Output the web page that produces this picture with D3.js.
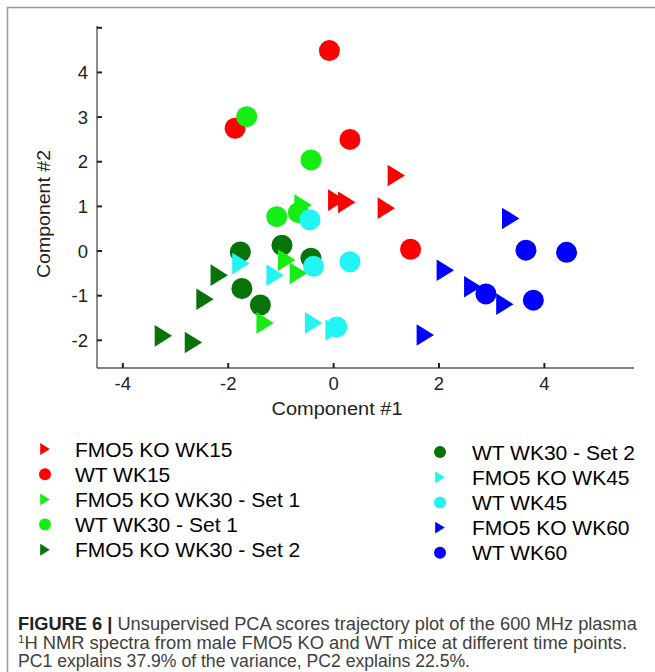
<!DOCTYPE html>
<html lang="en">
<head>
<meta charset="UTF-8">
<title>PCA scores</title>
<script src="https://d3js.org/d3.v7.min.js"></script>
<style>
  body { margin: 0; background: #fff; }
  text { font-family: "Liberation Sans", Arial, Helvetica, sans-serif; }
</style>
</head>
<body>
<div id="chart"></div>
<script>
// series values [PC1, PC2]
var fmo5Wk15 = [[1.19, 1.69], [0.06, 1.14], [0.25, 1.09], [1.00, 0.96]];
var wtWk15 = [[-0.08, 4.49], [0.31, 2.50], [1.46, 0.04], [-1.87, 2.75]];
var fmo5Wk30s1 = [[-0.58, 1.03], [-0.89, -0.20], [-0.67, -0.50], [-1.30, -1.61]];
var wtWk30s1 = [[-1.65, 3.01], [-0.43, 2.04], [-1.08, 0.77], [-0.67, 0.86]];
var fmo5Wk30s2 = [[-2.17, -0.54], [-2.44, -1.08], [-3.23, -1.90], [-2.66, -2.05]];
var wtWk30s2 = [[-1.77, -0.02], [-0.98, 0.13], [-0.43, -0.16], [-1.74, -0.84], [-1.39, -1.21]];
var fmo5Wk45 = [[-1.76, -0.28], [-1.11, -0.54], [-0.38, -1.61], [0.01, -1.77]];
var wtWk45 = [[-0.45, 0.70], [-0.38, -0.34], [0.31, -0.24], [0.06, -1.70]];
var fmo5Wk60 = [[3.36, 0.73], [2.12, -0.43], [2.64, -0.80], [3.25, -1.19], [1.74, -1.88]];
var wtWk60 = [[3.65, 0.02], [4.42, -0.03], [2.89, -0.96], [3.79, -1.10]];

var legendLabels = ["FMO5 KO WK15", "WT WK15", "FMO5 KO WK30 - Set 1", "WT WK30 - Set 1",
  "FMO5 KO WK30 - Set 2", "WT WK30 - Set 2", "FMO5 KO WK45", "WT WK45", "FMO5 KO WK60", "WT WK60"];
var seriesData = [fmo5Wk15, wtWk15, fmo5Wk30s1, wtWk30s1, fmo5Wk30s2, wtWk30s2, fmo5Wk45, wtWk45, fmo5Wk60, wtWk60];
var seriesShape = ["tri", "circle", "tri", "circle", "tri", "circle", "tri", "circle", "tri", "circle"];
var seriesColor = ["#ff0000", "#ff0000", "#14ee14", "#14ee14", "#087308", "#087308", "#22f4f4", "#22f4f4", "#0000ff", "#0000ff"];
// draw order so overlaps look like the original
var drawOrder = [0, 1, 4, 5, 2, 3, 6, 7, 8, 9];

var xTicks = [-4, -2, 0, 2, 4];
var yTicks = [-2, -1, 0, 1, 2, 3, 4, 5];
var yTickLabels = ["-2", "-1", "0", "1", "2", "3", "4", ""];

var captionLines = [
  ["Unsupervised PCA scores trajectory plot of the 600 MHz plasma"],
  ["H NMR spectra from male FMO5 KO and WT mice at different time points."],
  ["PC1 explains 37.9% of the variance, PC2 explains 22.5%."]
];

var W = 655, H = 672;
var svg = d3.select("#chart").append("svg")
  .attr("width", W).attr("height", H);

svg.append("rect").attr("width", W).attr("height", H).attr("fill", "#fff");

// outer frame (top and left edge visible)
svg.append("path")
  .attr("d", "M7.5," + H + " V7.5 H" + W)
  .attr("fill", "none").attr("stroke", "#9a9a9a").attr("stroke-width", 1.5);

var x = d3.scaleLinear().domain([-4.49, 5.7]).range([97, 634]);
var y = d3.scaleLinear().domain([-2.62, 5.04]).range([368, 26]);

var g = svg.append("g");

// axes
g.append("line").attr("x1", 97).attr("x2", 97).attr("y1", y(5.04)).attr("y2", 368)
  .attr("stroke", "#5a5a5a").attr("stroke-width", 1.4);
g.append("line").attr("x1", 97).attr("x2", x(5.7)).attr("y1", 368).attr("y2", 368)
  .attr("stroke", "#5a5a5a").attr("stroke-width", 1.4);

g.selectAll(".ytick").data(yTicks).enter().append("line")
  .attr("x1", 97).attr("x2", 102)
  .attr("y1", function(d) { return y(d); }).attr("y2", function(d) { return y(d); })
  .attr("stroke", "#222").attr("stroke-width", 2);
g.selectAll(".ylab").data(yTicks).enter().append("text")
  .attr("x", 88).attr("y", function(d) { return y(d) + 6.5; })
  .attr("text-anchor", "end").attr("font-size", 18.5).attr("fill", "#222")
  .text(function(d, i) { return yTickLabels[i]; });

g.selectAll(".xtick").data(xTicks).enter().append("line")
  .attr("x1", function(d) { return x(d); }).attr("x2", function(d) { return x(d); })
  .attr("y1", 368).attr("y2", 363)
  .attr("stroke", "#222").attr("stroke-width", 2);
g.selectAll(".xlab").data(xTicks).enter().append("text")
  .attr("x", function(d) { return x(d); }).attr("y", 390)
  .attr("text-anchor", "middle").attr("font-size", 18.5).attr("fill", "#222")
  .text(function(d) { return d; });

g.append("text").attr("x", 337).attr("y", 415)
  .attr("text-anchor", "middle").attr("font-size", 18).attr("fill", "#222")
  .attr("textLength", 131).attr("lengthAdjust", "spacingAndGlyphs")
  .text("Component #1");
g.append("text").attr("transform", "translate(50,214) rotate(-90)")
  .attr("text-anchor", "middle").attr("font-size", 18).attr("fill", "#222")
  .attr("textLength", 128).attr("lengthAdjust", "spacingAndGlyphs")
  .text("Component #2");

function triPath(s) {
  var hw = 8.7 * s, hh = 10.8 * s;
  return "M" + (-hw) + "," + (-hh) + " L" + hw + ",0 L" + (-hw) + "," + hh + " Z";
}

drawOrder.forEach(function(k) {
  var pts = g.append("g");
  if (seriesShape[k] == "circle") {
    pts.selectAll("circle").data(seriesData[k]).enter().append("circle")
      .attr("cx", function(d) { return x(d[0]); })
      .attr("cy", function(d) { return y(d[1]); })
      .attr("r", 10.5)
      .attr("fill", seriesColor[k]);
  } else {
    pts.selectAll("path").data(seriesData[k]).enter().append("path")
      .attr("transform", function(d) { return "translate(" + x(d[0]) + "," + y(d[1]) + ")"; })
      .attr("d", triPath(1))
      .attr("fill", seriesColor[k]);
  }
});

// legend, two columns of five
var legend = svg.append("g");
legendLabels.forEach(function(lab, i) {
  var col = i < 5 ? 0 : 1;
  var row = i % 5;
  var mx = col == 0 ? 45 : 440;
  var tx = col == 0 ? 75 : 472;
  var cy = (col == 0 ? 449 : 452) + row * 25.2;
  if (seriesShape[i] == "circle") {
    legend.append("circle").attr("cx", mx).attr("cy", cy).attr("r", 6).attr("fill", seriesColor[i]);
  } else {
    legend.append("path").attr("transform", "translate(" + mx + "," + cy + ")")
      .attr("d", triPath(0.55)).attr("fill", seriesColor[i]);
  }
  legend.append("text").attr("x", tx).attr("y", cy + 7.5)
    .attr("font-size", 21).attr("fill", "#000")
    .text(lab);
});

// caption
var cap = svg.append("g").attr("fill", "#404040").attr("font-size", 17.5);
var t1 = cap.append("text").attr("x", 18).attr("y", 630)
  .attr("textLength", 619).attr("lengthAdjust", "spacingAndGlyphs");
t1.append("tspan").attr("font-weight", "bold").attr("fill", "#222").text("FIGURE 6 | ");
t1.append("tspan").text(captionLines[0][0]);
var t2 = cap.append("text").attr("x", 18).attr("y", 648.5)
  .attr("textLength", 609).attr("lengthAdjust", "spacingAndGlyphs");
t2.append("tspan").attr("font-size", 11).attr("dy", -6).text("1");
t2.append("tspan").attr("dy", 6).text(captionLines[1][0]);
cap.append("text").attr("x", 18).attr("y", 667)
  .attr("textLength", 452).attr("lengthAdjust", "spacingAndGlyphs")
  .text(captionLines[2][0]);
</script>
</body>
</html>
